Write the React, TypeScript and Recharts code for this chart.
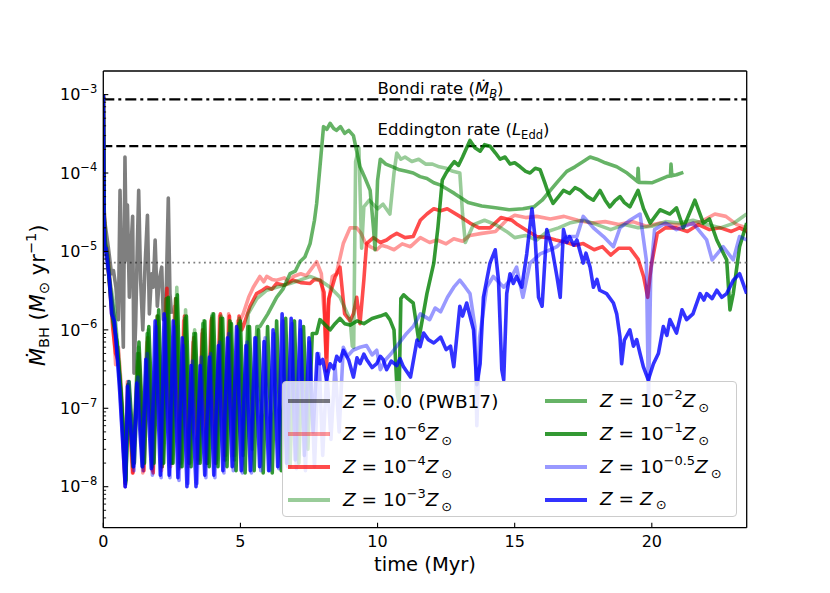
import React from 'react';
import { LineChart, Line, XAxis, YAxis, ReferenceLine, Legend } from 'recharts';

type Pt = [number, number];

// time (Myr), accretion rate (Msun / yr)

const zZero: Pt[] = [
  [0, 1e-3], [0.03, 3e-5], [0.06, 2.3e-5], [0.18, 1.15e-5], [0.3, 5.2e-6], [0.37, 5.7e-6], [0.46, 3.5e-6],
  [0.55, 1.35e-6], [0.61, 6e-5], [0.67, 4.3e-6], [0.73, 6e-7], [0.79, 1.6e-4], [0.84, 7.8e-6], [0.88, 3.9e-5],
  [0.95, 2.6e-6], [1.01, 1.15e-5], [1.07, 2.8e-5], [1.12, 2.8e-7], [1.18, 1.2e-6], [1.24, 1.15e-5], [1.29, 6e-5],
  [1.36, 4.3e-6], [1.44, 1e-6], [1.52, 6.3e-6], [1.61, 2.9e-5], [1.68, 1.6e-6], [1.76, 5.2e-6], [1.82, 3.5e-6],
  [1.89, 1.4e-5], [1.97, 2e-6], [2.04, 4.3e-6], [2.13, 6.3e-6], [2.19, 1.35e-6], [2.29, 2.6e-6], [2.37, 4.8e-5],
  [2.43, 2.9e-6], [2.49, 1.6e-6],
];

const zMinus6: Pt[] = [
  [0, 1e-3], [0.03, 4e-5], [0.06, 1.3e-5], [0.15, 1e-5], [0.25, 4e-6], [0.35, 1.5e-6], [0.45, 3.6e-7], [0.55, 6e-7],
  [0.65, 2e-7], [0.8, 1e-8], [0.88, 2.2e-7], [1.06, 1.5e-8], [1.26, 4e-7], [1.44, 1.5e-8], [1.6, 7e-7], [1.79, 1.6e-8],
  [1.95, 1.3e-6], [2.12, 1.6e-8], [2.28, 2.5e-6], [2.45, 1.8e-8], [2.6, 2e-6], [2.77, 1.7e-8], [2.93, 1.3e-6],
  [3.1, 1.8e-8], [3.27, 7e-7], [3.44, 2e-8], [3.6, 9e-7], [3.76, 2e-8], [3.92, 1.3e-6], [4.08, 2e-8], [4.24, 1.5e-6],
  [4.41, 2.2e-8], [4.57, 1.6e-6], [4.74, 2.5e-8], [4.9, 1.3e-6], [5.0, 1.35e-6], [5.1, 1.6e-6], [5.3, 2.6e-6],
  [5.47, 3.5e-6], [5.71, 4.8e-6], [5.85, 4.1e-6], [5.96, 4.8e-6], [6.15, 4.4e-6], [6.32, 4.3e-6], [6.6, 4.6e-6],
  [6.75, 4.1e-6], [6.93, 4.8e-6], [7.2, 5.2e-6], [7.4, 4.9e-6], [7.54, 5.7e-6], [7.78, 7.4e-6], [7.95, 5.2e-6],
  [8.06, 1.5e-6], [8.12, 4.5e-7], [8.2, 2e-6], [8.35, 4.8e-6], [8.5, 5.2e-6], [8.75, 1.26e-5], [9.0, 2e-5],
  [9.24, 2e-5], [9.4, 1.7e-5], [9.55, 1.3e-5], [9.73, 1.15e-5], [9.97, 1.05e-5], [10.15, 1.2e-5], [10.33, 1.15e-5],
  [10.6, 1.05e-5], [10.9, 1.25e-5], [11.2, 1.15e-5], [11.56, 1.5e-5], [11.9, 1.3e-5], [12.17, 1.4e-5],
  [12.5, 1.25e-5], [12.78, 1.45e-5], [13.1, 1.35e-5], [13.37, 1.6e-5], [13.8, 1.7e-5], [14.3, 1.8e-5], [14.7, 2.5e-5],
  [15.0, 2.9e-5], [15.4, 2.7e-5], [15.8, 2.8e-5], [16.3, 2.6e-5], [16.8, 2.8e-5], [17.3, 2.5e-5], [17.8, 2.3e-5],
  [18.3, 2.4e-5], [18.8, 2.2e-5], [19.3, 2.4e-5], [19.8, 2.1e-5], [20.3, 2.3e-5], [20.8, 2.2e-5], [21.3, 2.2e-5],
  [21.8, 2.4e-5], [22.3, 3e-5], [22.7, 2.8e-5], [23.1, 2.2e-5], [23.46, 2e-5],
];

const zMinus4: Pt[] = [
  [0, 1e-3], [0.03, 3.5e-5], [0.06, 1.2e-5], [0.15, 8e-6], [0.25, 3e-6], [0.35, 1e-6], [0.45, 5e-7], [0.55, 4e-7],
  [0.65, 1.3e-7], [0.8, 1.1e-8], [0.9, 2e-7], [1.08, 1.5e-8], [1.3, 5e-7], [1.48, 1.6e-8], [1.62, 8e-7], [1.82, 1.5e-8],
  [1.98, 1.5e-6], [2.15, 1.8e-8], [2.32, 3.4e-6], [2.48, 2e-8], [2.64, 2.5e-6], [2.8, 2e-8], [2.96, 1.5e-6],
  [3.12, 2e-8], [3.3, 8e-7], [3.46, 2.2e-8], [3.62, 1e-6], [3.78, 2e-8], [3.95, 1.4e-6], [4.1, 2e-8], [4.27, 1.6e-6],
  [4.44, 2.5e-8], [4.6, 1.5e-6], [4.78, 3e-8], [4.95, 1.5e-6], [5.05, 1e-6], [5.1, 1.1e-6], [5.35, 2e-6],
  [5.59, 2.9e-6], [5.8, 3.2e-6], [5.96, 3.5e-6], [6.15, 3.3e-6], [6.32, 3.9e-6], [6.6, 3.7e-6], [6.93, 4.3e-6],
  [7.2, 4e-6], [7.54, 3.9e-6], [7.7, 4.4e-6], [7.9, 4.3e-6], [8.05, 3e-6], [8.14, 3e-7], [8.22, 2.5e-6],
  [8.45, 4.7e-6], [8.63, 6.3e-6], [8.8, 1.6e-6], [9.0, 1.3e-6], [9.12, 1.6e-6], [9.24, 2.6e-6], [9.36, 1.2e-6],
  [9.5, 4.3e-6], [9.6, 1.26e-5], [9.85, 1.5e-5], [10.1, 1.3e-5], [10.33, 1.4e-5], [10.5, 1.55e-5], [10.7, 1.7e-5],
  [11.0, 1.5e-5], [11.3, 1.55e-5], [11.56, 2.5e-5], [11.8, 3e-5], [12.05, 3.5e-5], [12.3, 3.3e-5], [12.54, 3.5e-5],
  [13.0, 2.8e-5], [13.37, 2.3e-5], [13.7, 2e-5], [14.1, 2e-5], [14.5, 2.7e-5], [14.9, 2.5e-5], [15.1, 2.2e-5],
  [15.5, 1.8e-5], [15.8, 1.55e-5], [16.2, 1.5e-5], [16.5, 1.4e-5], [16.9, 1.3e-5], [17.2, 1.2e-5], [17.5, 1.26e-5],
  [17.9, 1.05e-5], [18.2, 1.15e-5], [18.5, 9e-6], [18.8, 1.1e-5], [19.2, 1.1e-5], [19.5, 8e-6], [19.7, 4.8e-6],
  [19.85, 2.6e-6], [19.97, 6.3e-6], [20.2, 1.7e-5], [20.5, 2e-5], [20.9, 2e-5], [21.3, 1.8e-5], [21.7, 2.2e-5],
  [22.1, 1.9e-5], [22.5, 2e-5], [22.9, 1.8e-5], [23.2, 2e-5], [23.46, 1.8e-5],
];

const zMinus3: Pt[] = [
  [0, 1e-3], [0.03, 4e-5], [0.06, 1.4e-5], [0.15, 1e-5], [0.25, 4e-6], [0.4, 2e-6], [0.55, 5e-7], [0.7, 1e-7],
  [0.82, 1.2e-8], [0.92, 2e-7], [1.1, 2e-8], [1.28, 6e-7], [1.46, 2e-8], [1.64, 1e-6], [1.82, 2e-8], [2.0, 1.5e-6],
  [2.18, 2e-8], [2.35, 2.5e-6], [2.52, 2e-8], [2.68, 3.5e-6], [2.85, 2e-8], [3.0, 1.8e-6], [3.16, 2e-8], [3.33, 1e-6],
  [3.5, 2.2e-8], [3.66, 1.3e-6], [3.82, 2e-8], [3.98, 1.6e-6], [4.14, 2.2e-8], [4.3, 1.5e-6], [4.47, 2.5e-8],
  [4.63, 1.3e-6], [4.8, 2.5e-8], [4.96, 1.4e-6], [5.12, 3e-8], [5.28, 1.6e-6], [5.6, 2.5e-6], [5.96, 3.2e-6],
  [6.32, 3.5e-6], [6.8, 3.9e-6], [7.17, 4.3e-6], [7.54, 4.8e-6], [7.9, 4.3e-6], [8.27, 3.5e-6], [8.63, 2.6e-6],
  [9.0, 1.35e-6], [9.08, 6.2e-7], [9.13, 6e-7], [9.2, 1.4e-4], [9.32, 2.1e-4], [9.42, 1.1e-5], [9.5, 3.7e-5],
  [9.7, 4.5e-5], [10.0, 3.5e-5], [10.2, 4e-5], [10.45, 3e-5], [10.6, 1e-4], [10.7, 1.8e-4], [10.85, 1.5e-4],
  [11.0, 1.6e-4], [11.25, 1.4e-4], [11.5, 1.5e-4], [11.75, 1.3e-4], [12.0, 1.3e-4], [12.25, 1.2e-4], [12.5, 1.15e-4],
  [12.75, 1.05e-4], [13.0, 1e-4], [13.1, 3e-5], [13.2, 1.3e-5], [13.5, 2.2e-5], [13.9, 2.5e-5], [14.3, 2.2e-5],
  [14.7, 1.8e-5], [15.0, 1.5e-5], [15.4, 1.6e-5], [15.8, 1.4e-5], [16.2, 1.8e-5], [16.6, 2e-5], [17.0, 2.3e-5],
  [17.5, 2.5e-5], [18.0, 2.2e-5], [18.5, 1.9e-5], [19.0, 2.2e-5], [19.5, 2e-5], [20.0, 2.1e-5], [20.5, 2.4e-5],
  [21.0, 2.3e-5], [21.5, 2.5e-5], [22.0, 2.2e-5], [22.5, 2e-5], [23.0, 2.3e-5], [23.46, 3e-5],
];

const zMinus2: Pt[] = [
  [0, 1e-3], [0.03, 3e-5], [0.06, 1.2e-5], [0.15, 9e-6], [0.25, 3.5e-6], [0.4, 1.5e-6], [0.55, 4e-7], [0.7, 8e-8],
  [0.82, 1.1e-8], [0.9, 2e-7], [1.08, 1.8e-8], [1.25, 5e-7], [1.43, 1.8e-8], [1.6, 9e-7], [1.78, 1.8e-8],
  [1.96, 1.5e-6], [2.14, 1.8e-8], [2.3, 2.5e-6], [2.48, 2e-8], [2.64, 2.5e-6], [2.82, 1.8e-8], [2.98, 1.4e-6],
  [3.14, 2e-8], [3.3, 9e-7], [3.47, 2e-8], [3.63, 1.2e-6], [3.8, 2e-8], [3.96, 1.5e-6], [4.12, 2e-8], [4.28, 1.4e-6],
  [4.45, 2.2e-8], [4.61, 1.3e-6], [4.78, 2.2e-8], [4.94, 1.2e-6], [5.1, 2.5e-8], [5.27, 1.1e-6], [5.43, 3e-8],
  [5.6, 1.1e-6], [5.71, 1.1e-6], [6.0, 1.6e-6], [6.32, 2.6e-6], [6.55, 3.3e-6], [6.81, 5.2e-6], [7.0, 5.6e-6],
  [7.17, 7.4e-6], [7.35, 8.5e-6], [7.54, 1.26e-5], [7.7, 2.5e-5], [7.78, 4.1e-5], [7.9, 1.2e-4], [8.03, 3.9e-4],
  [8.15, 3.6e-4], [8.27, 4.3e-4], [8.4, 3.7e-4], [8.5, 3.5e-4], [8.65, 3.9e-4], [8.8, 3.2e-4], [8.95, 3.5e-4],
  [9.12, 3e-4], [9.36, 1.2e-4], [9.55, 8.5e-5], [9.73, 6e-5], [9.85, 2e-5], [9.91, 1.05e-5], [10.0, 8e-5],
  [10.1, 1.5e-4], [10.3, 1.3e-4], [10.55, 1.2e-4], [10.8, 1.1e-4], [11.05, 1.05e-4], [11.3, 1e-4], [11.55, 9e-5],
  [11.8, 8.5e-5], [12.05, 7.5e-5], [12.3, 7e-5], [12.55, 6.2e-5], [12.8, 5.5e-5], [13.05, 4.8e-5], [13.3, 4.2e-5],
  [13.8, 3.8e-5], [14.3, 3.6e-5], [14.8, 3.4e-5], [15.3, 3.5e-5], [15.7, 3.7e-5], [16.0, 4.5e-5], [16.3, 6e-5],
  [16.6, 8e-5], [16.9, 1.05e-4], [17.2, 1.2e-4], [17.5, 1.4e-4], [17.75, 1.6e-4], [18.0, 1.5e-4], [18.3, 1.35e-4],
  [18.72, 1.2e-4], [19.1, 1e-4], [19.48, 7.8e-5], [19.5, 1.15e-4], [19.53, 7.6e-5], [20.0, 7.5e-5], [20.55, 9e-5],
  [20.68, 9.2e-5], [20.7, 1.3e-4], [20.73, 9.2e-5], [20.9, 9.5e-5], [21.15, 1.02e-4],
];

const zMinus1: Pt[] = [
  [0, 1e-3], [0.03, 3e-5], [0.06, 1.3e-5], [0.15, 8e-6], [0.25, 3e-6], [0.35, 1.3e-6], [0.5, 7e-7], [0.65, 1.5e-7],
  [0.82, 1.2e-8], [0.94, 2.2e-7], [1.13, 2e-8], [1.3, 7e-7], [1.5, 2e-8], [1.66, 1.1e-6], [1.85, 2e-8], [2.02, 1.8e-6],
  [2.2, 2e-8], [2.37, 2.6e-6], [2.54, 2e-8], [2.7, 2.8e-6], [2.87, 1.8e-8], [3.03, 1.5e-6], [3.2, 1.8e-8],
  [3.36, 9e-7], [3.53, 2e-8], [3.7, 1.3e-6], [3.86, 1.8e-8], [4.02, 1.6e-6], [4.18, 1.8e-8], [4.35, 1.4e-6],
  [4.51, 1.8e-8], [4.67, 1.2e-6], [4.84, 1.6e-8], [5.0, 1.3e-6], [5.17, 1.5e-8], [5.33, 1.1e-6], [5.5, 1.6e-8],
  [5.66, 1e-6], [5.83, 1.5e-8], [5.99, 1.1e-6], [6.16, 1.5e-8], [6.32, 1.3e-6], [6.49, 1.6e-8], [6.65, 1.4e-6],
  [6.81, 1.8e-8], [6.97, 1.3e-6], [7.13, 2e-8], [7.3, 1.1e-6], [7.46, 3e-8], [7.62, 9e-7], [7.78, 9e-7],
  [7.9, 1.35e-6], [8.1, 1.15e-6], [8.27, 1e-6], [8.45, 1.2e-6], [8.63, 1.4e-6], [8.8, 1.2e-6], [9.0, 1.15e-6],
  [9.25, 1.3e-6], [9.5, 1.2e-6], [9.8, 1.4e-6], [10.1, 1.5e-6], [10.3, 1.6e-6], [10.45, 1.35e-6], [10.6, 1e-6],
  [10.72, 1.5e-7], [10.78, 1.2e-7], [10.85, 2.5e-6], [10.95, 2.8e-6], [11.1, 2.5e-6], [11.3, 2.2e-6], [11.5, 7.4e-7],
  [11.8, 2.9e-6], [12.05, 7.1e-6], [12.2, 2e-5], [12.36, 8.1e-5], [12.5, 1e-4], [12.65, 1.2e-4], [12.8, 1.4e-4],
  [12.95, 1.25e-4], [13.1, 1.6e-4], [13.25, 2.1e-4], [13.37, 2.6e-4], [13.55, 2.1e-4], [13.74, 1.9e-4],
  [13.9, 2.3e-4], [14.1, 2.2e-4], [14.3, 1.8e-4], [14.47, 1.5e-4], [14.65, 1.6e-4], [14.83, 1.3e-4], [15.0, 1.35e-4],
  [15.2, 1.2e-4], [15.4, 1.05e-4], [15.56, 1e-4], [15.75, 1.15e-4], [15.93, 1.1e-4], [16.1, 7.5e-5], [16.23, 5.5e-5],
  [16.4, 4.1e-5], [16.6, 5e-5], [16.78, 6e-5], [17.0, 5.5e-5], [17.2, 6.5e-5], [17.4, 6e-5], [17.65, 5e-5],
  [17.87, 4.5e-5], [18.11, 6e-5], [18.3, 4.5e-5], [18.47, 3.7e-5], [18.65, 4.4e-5], [18.84, 5e-5], [19.0, 4.2e-5],
  [19.2, 3.7e-5], [19.5, 6e-5], [19.7, 3.5e-5], [19.94, 2.3e-5], [20.3, 3.4e-5], [20.66, 3e-5], [20.9, 3.6e-5],
  [21.15, 2e-5], [21.57, 4.5e-5], [21.88, 2.3e-5], [22.1, 2.6e-5], [22.37, 1.4e-5], [22.73, 7.8e-6], [22.85, 1.8e-6],
  [22.97, 2.9e-6], [23.2, 1.15e-5], [23.46, 2.3e-5],
];

const zMinus05: Pt[] = [
  [0, 1e-3], [0.03, 3e-5], [0.06, 1e-5], [0.2, 5e-6], [0.4, 1.3e-6], [0.6, 2e-7], [0.8, 1e-8], [0.92, 2.2e-7],
  [1.12, 1.6e-8], [1.26, 2.5e-7], [1.45, 1.6e-8], [1.6, 5e-7], [1.79, 1.4e-8], [1.93, 1.1e-6], [2.11, 1.3e-8],
  [2.26, 1.4e-6], [2.43, 1.3e-8], [2.59, 1.1e-6], [2.76, 1.2e-8], [2.92, 6.3e-7], [3.09, 1.1e-8], [3.25, 4e-7],
  [3.42, 1.1e-8], [3.57, 4.5e-7], [3.74, 1.3e-8], [3.91, 5e-7], [4.07, 1.3e-8], [4.24, 7e-7], [4.4, 1.5e-8],
  [4.57, 9e-7], [4.74, 1.6e-8], [4.9, 1e-6], [5.07, 1.5e-8], [5.24, 7e-7], [5.4, 1.5e-8], [5.57, 8e-7], [5.74, 1.6e-8],
  [5.9, 7.9e-7], [6.07, 1.6e-8], [6.23, 9e-7], [6.4, 1.7e-8], [6.56, 1.3e-6], [6.72, 1.8e-8], [6.89, 1.2e-6],
  [7.04, 1.7e-8], [7.2, 1e-6], [7.37, 1.6e-8], [7.53, 7e-7], [7.7, 1.8e-8], [7.86, 5e-7], [8.0, 2.5e-8], [8.15, 3e-7],
  [8.3, 4e-8], [8.45, 3.5e-7], [8.6, 5e-8], [8.75, 6e-7], [8.9, 4.6e-7], [9.1, 5.5e-7], [9.36, 6e-7], [9.6, 6.3e-7],
  [9.8, 4.8e-7], [9.97, 5.5e-7], [10.1, 3.1e-7], [10.3, 4.2e-7], [10.5, 5e-7], [10.7, 6.2e-7], [11.06, 9e-7],
  [11.3, 1.1e-6], [11.56, 1.6e-6], [11.9, 1.35e-6], [12.1, 1.9e-6], [12.3, 1.7e-6], [12.55, 2.6e-6], [12.78, 3.5e-6],
  [13.0, 4.3e-6], [13.2, 3.5e-6], [13.37, 2.9e-6], [13.55, 1.1e-6], [13.62, 6e-8], [13.72, 8e-7], [13.98, 3.5e-6],
  [14.22, 4.8e-6], [14.6, 3.5e-6], [14.83, 4.3e-6], [15.07, 6.3e-6], [15.3, 2.6e-6], [15.56, 7.1e-6], [15.93, 9.3e-6],
  [16.3, 1.05e-5], [16.54, 1.15e-5], [16.9, 1.55e-5], [17.27, 1.55e-5], [17.5, 2.8e-5], [17.87, 2e-5],
  [18.24, 1.55e-5], [18.6, 1.15e-5], [18.84, 2e-5], [19.2, 2.5e-5], [19.57, 3e-5], [19.8, 7.8e-6], [19.88, 1.2e-7],
  [19.96, 5e-6], [20.1, 1.9e-5], [20.5, 2.3e-5], [20.9, 1.9e-5], [21.5, 2.3e-5], [22.0, 1.4e-5], [22.2, 7.8e-6],
  [22.6, 1.15e-5], [22.97, 7.8e-6], [23.2, 1.55e-5], [23.46, 1.4e-5],
];

const zSolar: Pt[] = [
  [0, 1e-3], [0.02, 2.5e-5], [0.05, 1e-5], [0.1, 1.1e-5], [0.15, 7.9e-6], [0.22, 4.5e-6], [0.3, 1.6e-6],
  [0.4, 1.3e-6], [0.5, 5e-7], [0.6, 1.6e-7], [0.7, 4e-8], [0.8, 1e-8], [0.88, 1.9e-7], [1.1, 1.8e-8], [1.22, 2.1e-7],
  [1.42, 1.8e-8], [1.55, 4.2e-7], [1.75, 1.7e-8], [1.89, 1.3e-6], [2.08, 1.4e-8], [2.22, 1.6e-6], [2.4, 1.4e-8],
  [2.55, 1.3e-6], [2.72, 1.3e-8], [2.88, 7.9e-7], [3.05, 1e-8], [3.2, 3.5e-7], [3.38, 1e-8], [3.53, 3.5e-7],
  [3.7, 1.4e-8], [3.87, 4.5e-7], [4.03, 1.4e-8], [4.2, 6.3e-7], [4.36, 1.6e-8], [4.53, 7.9e-7], [4.7, 1.8e-8],
  [4.86, 1.1e-6], [5.03, 1.6e-8], [5.2, 6.3e-7], [5.36, 1.6e-8], [5.53, 7.9e-7], [5.7, 1.8e-8], [5.86, 7.1e-7],
  [6.03, 1.6e-8], [6.19, 1e-6], [6.36, 1.8e-8], [6.52, 1.6e-6], [6.68, 2e-8], [6.85, 1.4e-6], [7.0, 2.2e-8],
  [7.18, 1.3e-6], [7.33, 2.5e-8], [7.5, 7.9e-7], [7.65, 5e-8], [7.8, 5e-7], [7.9, 3.7e-7], [8.0, 4.2e-7],
  [8.14, 2.3e-7], [8.27, 3.7e-7], [8.4, 3.2e-7], [8.51, 4.6e-7], [8.63, 4e-7], [8.75, 5.5e-7], [8.95, 4.1e-7],
  [9.12, 2.5e-7], [9.25, 4.4e-7], [9.36, 3.7e-7], [9.5, 4.9e-7], [9.6, 4.2e-7], [9.8, 3.3e-7], [9.97, 3.7e-7],
  [10.1, 4.6e-7], [10.2, 4.2e-7], [10.33, 3.1e-7], [10.5, 4e-7], [10.7, 3.5e-7], [10.82, 4.3e-7], [10.94, 3.4e-7],
  [11.2, 2.5e-7], [11.44, 7.4e-7], [11.55, 6.1e-7], [11.68, 9.1e-7], [11.85, 7.5e-7], [12.05, 6.8e-7], [12.3, 8.1e-7],
  [12.5, 5.6e-7], [12.66, 6.2e-7], [12.78, 3.4e-7], [13.0, 2e-6], [13.1, 1.5e-6], [13.25, 2.2e-6], [13.5, 1e-6],
  [13.62, 2e-7], [13.74, 3.7e-7], [13.86, 2.6e-6], [14.1, 7.1e-6], [14.29, 1.05e-5], [14.41, 4.3e-6], [14.53, 3.1e-7],
  [14.6, 2.3e-7], [14.71, 2.9e-6], [14.83, 5.2e-6], [14.95, 3.9e-6], [15.07, 4.8e-6], [15.26, 3.5e-6], [15.44, 9.3e-6],
  [15.63, 3.5e-5], [15.75, 1.4e-5], [15.87, 2.6e-6], [16.0, 2e-6], [16.17, 1.9e-5], [16.35, 1.15e-5], [16.54, 4.8e-6],
  [16.66, 2.6e-6], [16.78, 1.9e-5], [16.9, 1.3e-5], [17.0, 1.55e-5], [17.15, 1.2e-5], [17.27, 1.4e-5], [17.5, 7.1e-6],
  [17.6, 9.5e-6], [17.75, 6.3e-6], [17.87, 3.5e-6], [18.0, 4.4e-6], [18.1, 3.2e-6], [18.35, 2.9e-6], [18.6, 2.2e-6],
  [18.72, 1.6e-6], [18.84, 8.1e-7], [18.9, 3.7e-7], [19.0, 7.4e-7], [19.2, 1e-6], [19.33, 6.2e-7], [19.45, 7.5e-7],
  [19.57, 5e-7], [19.69, 3.4e-7], [19.87, 2.3e-7], [20.06, 3.7e-7], [20.24, 5e-7], [20.42, 1.1e-6], [20.55, 8.5e-7],
  [20.66, 1.35e-6], [20.9, 9.1e-7], [21.1, 1.8e-6], [21.27, 1.35e-6], [21.5, 1.6e-6], [21.76, 2.9e-6], [21.9, 2.4e-6],
  [22.0, 2.9e-6], [22.2, 2.5e-6], [22.37, 3.2e-6], [22.55, 2.6e-6], [22.73, 2.9e-6], [22.97, 4.3e-6], [23.2, 5.2e-6],
  [23.46, 2.9e-6],
];

const bondiRate = 8.7e-4;
const eddingtonRate = 2.2e-4;
const floorRate = 7.2e-6;

const xTicks = [0, 5, 10, 15, 20];
const yMajorTicks = [1e-8, 1e-7, 1e-6, 1e-5, 1e-4, 1e-3];
const xMax = 23.46;
const yMin = 3e-9;
const yMax = 2e-3;

// minor log ticks 2..9 x 10^n inside the axis range
const yMinorTicks: number[] = [];
[1e-9, ...yMajorTicks].forEach((d) => {
  for (let k = 2; k <= 9; k++) {
    const v = k * d;
    if (v > yMin * 1.03 && v < yMax) yMinorTicks.push(v);
  }
});
const yTicks = [...yMajorTicks, ...yMinorTicks].sort((a, b) => a - b);

const FONT = 'DejaVu Sans';

const series = [
  { id: 'z0', data: zZero, color: '#000000', opacity: 0.5, exp: null as string | null, text: '0.0 (PWB17)' },
  { id: 'zm6', data: zMinus6, color: '#ff0000', opacity: 0.4, exp: '\u22126', text: '' },
  { id: 'zm4', data: zMinus4, color: '#ff0000', opacity: 0.7, exp: '\u22124', text: '' },
  { id: 'zm3', data: zMinus3, color: '#008000', opacity: 0.4, exp: '\u22123', text: '' },
  { id: 'zm2', data: zMinus2, color: '#008000', opacity: 0.6, exp: '\u22122', text: '' },
  { id: 'zm1', data: zMinus1, color: '#008000', opacity: 0.8, exp: '\u22121', text: '' },
  { id: 'zm05', data: zMinus05, color: '#0000ff', opacity: 0.4, exp: '\u22120.5', text: '' },
  { id: 'zsun', data: zSolar, color: '#0000ff', opacity: 0.8, exp: null, text: '' },
];

const toRows = (pts: Pt[]) => pts.map(([t, m]) => ({ t, m }));

const YTick = (props: any) => {
  const { x, y, payload } = props;
  const lg = Math.log10(payload.value);
  const e = Math.round(lg);
  const major = Math.abs(lg - e) < 1e-6;
  return (
    <g>
      <line x1={x} x2={x + (major ? 5 : 2.8)} y1={y} y2={y} stroke="#000" strokeWidth={major ? 1.1 : 0.9} />
      {major && (
        <text x={x - 6} y={y + 5.8} textAnchor="end" fontSize={16} fontFamily={FONT} fill="#000">
          10<tspan dy={-7.5} fontSize={11.5}>{'\u2212' + -e}</tspan>
        </text>
      )}
    </g>
  );
};

const XTick = (props: any) => {
  const { x, y, payload } = props;
  return (
    <g>
      <line x1={x} x2={x} y1={y} y2={y - 5} stroke="#000" strokeWidth={1.1} />
      <text x={x} y={y + 19.5} textAnchor="middle" fontSize={16} fontFamily={FONT} fill="#000">
        {payload.value}
      </text>
    </g>
  );
};

const YLabel = (props: any) => {
  const vb = props.viewBox;
  const cx = vb.x + 45;
  const cy = vb.y + vb.height / 2 - 4;
  return (
    <text x={cx} y={cy} transform={`rotate(-90 ${cx} ${cy})`} textAnchor="middle" fontSize={21} fontFamily={FONT} fill="#000">
      <tspan fontStyle="italic">{'\u1E40'}</tspan>
      <tspan fontSize={14.5} dy={4}>BH</tspan>
      <tspan dy={-4}> (</tspan>
      <tspan fontStyle="italic">M</tspan>
      <tspan fontSize={14.5} dy={4}>{'\u2299'}</tspan>
      <tspan dy={-4}> yr</tspan>
      <tspan fontSize={14.5} dy={-9}>{'\u22121'}</tspan>
      <tspan dy={9}>)</tspan>
    </text>
  );
};

const XLabel = (props: any) => {
  const vb = props.viewBox;
  return (
    <text x={vb.x + vb.width / 2} y={vb.y + 43.5} textAnchor="middle" fontSize={19.5} fontFamily={FONT} fill="#000">
      time (Myr)
    </text>
  );
};

const BondiLabel = (props: any) => {
  const vb = props.viewBox;
  return (
    <text x={vb.x + vb.width * (10 / xMax)} y={vb.y - 5} fontSize={16.5} fontFamily={FONT} fill="#000">
      Bondi rate (<tspan fontStyle="italic">{'\u1E40'}</tspan>
      <tspan fontStyle="italic" fontSize={11.5} dy={4}>B</tspan>
      <tspan dy={-4}>)</tspan>
    </text>
  );
};

const EddLabel = (props: any) => {
  const vb = props.viewBox;
  return (
    <text x={vb.x + vb.width * (10 / xMax)} y={vb.y - 11.5} fontSize={16.5} fontFamily={FONT} fill="#000">
      Eddington rate (<tspan fontStyle="italic">L</tspan>
      <tspan fontSize={11.5} dy={4}>Edd</tspan>
      <tspan dy={-4}>)</tspan>
    </text>
  );
};

const LegendLabel = ({ s }: { s: (typeof series)[number] }) => {
  const sub = { fontSize: 13, verticalAlign: '-0.35em', marginLeft: 3 } as React.CSSProperties;
  const sup = { fontSize: 13, verticalAlign: '0.6em' } as React.CSSProperties;
  if (s.text) {
    return (
      <span>
        <i>Z</i> = {s.text}
      </span>
    );
  }
  return (
    <span>
      <i>Z</i> = {s.exp && <>10<span style={sup}>{s.exp}</span></>}
      <i>Z</i>
      <span style={sub}>{'\u2299'}</span>
    </span>
  );
};

const LegendBox = () => {
  const rows = [19, 52, 85, 118];
  return (
    <div
      style={{
        position: 'relative',
        width: 455,
        height: 136,
        boxSizing: 'border-box',
        border: '1px solid #cccccc',
        borderRadius: 4,
        background: 'rgba(255,255,255,0.8)',
        fontFamily: FONT,
        fontSize: 18.5,
        color: '#000',
      }}
    >
      {series.map((s, i) => {
        const col = i < 4 ? 0 : 1;
        const row = i % 4;
        return (
          <div
            key={s.id}
            style={{
              position: 'absolute',
              left: col ? 262.3 : 5.3,
              top: rows[row] - 14,
              height: 28,
              display: 'flex',
              alignItems: 'center',
              whiteSpace: 'nowrap',
            }}
          >
            <span style={{ display: 'inline-block', width: 42, height: 3.6, background: s.color, opacity: s.opacity }} />
            <span style={{ marginLeft: 13 }}>
              <LegendLabel s={s} />
            </span>
          </div>
        );
      })}
    </div>
  );
};

export default function App() {
  return (
    <div style={{ position: 'absolute', left: 0, top: 0, width: 830, height: 593, background: '#fff', fontFamily: FONT }}>
      <LineChart width={830} height={593} margin={{ top: 71, right: 83.3, bottom: 0, left: 0 }}>
        <XAxis
          dataKey="t"
          type="number"
          domain={[0, xMax]}
          ticks={xTicks}
          interval={0}
          tickLine={false}
          tickSize={0}
          tickMargin={0}
          tick={<XTick />}
          height={65.3}
          axisLine={{ stroke: '#000', strokeWidth: 1.3 }}
          allowDataOverflow
          label={{ content: <XLabel /> }}
        />
        <YAxis
          type="number"
          scale="log"
          domain={[yMin, yMax]}
          ticks={yTicks}
          interval={0}
          tickLine={false}
          tickSize={0}
          tickMargin={0}
          tick={<YTick />}
          width={103.3}
          axisLine={{ stroke: '#000', strokeWidth: 1.3 }}
          allowDataOverflow
          label={{ content: <YLabel /> }}
        />
        <ReferenceLine y={yMax} stroke="#000" strokeWidth={1.3} />
        <ReferenceLine x={xMax} stroke="#000" strokeWidth={1.3} />
        <ReferenceLine y={floorRate} stroke="#808080" strokeWidth={1.8} strokeDasharray="1.8 3.5" />
        <ReferenceLine y={bondiRate} stroke="#000" strokeWidth={2.2} strokeDasharray="11 4 3 4" label={{ content: <BondiLabel /> }} />
        <ReferenceLine y={eddingtonRate} stroke="#000" strokeWidth={2.2} strokeDasharray="9 4" label={{ content: <EddLabel /> }} />
        {series.map((s) => (
          <Line
            key={s.id}
            data={toRows(s.data)}
            dataKey="m"
            type="linear"
            stroke={s.color}
            strokeOpacity={s.opacity}
            strokeWidth={3.6}
            strokeLinejoin="round"
            dot={false}
            activeDot={false}
            isAnimationActive={false}
            legendType="line"
          />
        ))}
        <Legend
          layout="horizontal"
          verticalAlign="middle"
          align="center"
          content={() => <LegendBox />}
          wrapperStyle={{ position: 'absolute', left: 281.7, top: 381, width: 455, height: 136 }}
        />
      </LineChart>
    </div>
  );
}
